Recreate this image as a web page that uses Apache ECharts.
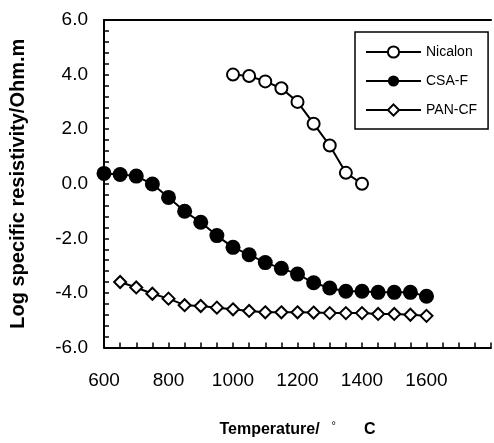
<!DOCTYPE html>
<html>
<head>
<meta charset="utf-8">
<script src="https://cdn.jsdelivr.net/npm/echarts@6/dist/echarts.min.js"></script>
<style>html,body{margin:0;padding:0;background:#fff}#c{width:494px;height:443px}</style>
</head>
<body>
<div id="c"></div>
<script>
const nicalonT = [1000,1050,1100,1150,1200,1250,1300,1350,1400];
const nicalonR = [4.0,3.95,3.75,3.5,3.0,2.2,1.4,0.4,0.0];
const csaT = [600,650,700,750,800,850,900,950,1000,1050,1100,1150,1200,1250,1300,1350,1400,1450,1500,1550,1600];
const csaR = [0.38,0.34,0.28,-0.01,-0.5,-1.01,-1.41,-1.9,-2.33,-2.6,-2.89,-3.1,-3.31,-3.63,-3.82,-3.94,-3.94,-3.98,-3.98,-3.98,-4.12];
const panT = [650,700,750,800,850,900,950,1000,1050,1100,1150,1200,1250,1300,1350,1400,1450,1500,1550,1600];
const panR = [-3.6,-3.8,-4.03,-4.21,-4.45,-4.48,-4.54,-4.6,-4.66,-4.71,-4.71,-4.71,-4.72,-4.74,-4.74,-4.74,-4.77,-4.77,-4.8,-4.84];
const xTicks = [600,800,1000,1200,1400,1600];
const yTicks = [-6,-4,-2,0,2,4,6];

const FONT = '"Liberation Sans", Arial, sans-serif';
const pair = (xs, ys) => xs.map((x, i) => [x, ys[i]]);

const chart = echarts.init(document.getElementById('c'), null, {renderer: 'canvas'});
chart.setOption({
  animation: false,
  backgroundColor: '#fff',
  textStyle: {fontFamily: FONT, color: '#000'},
  grid: {left: 97, right: 3, top: 20, bottom: 84},
  legend: {
    orient: 'vertical',
    left: 355, top: 32,
    padding: [13, 11, 12, 10],
    itemWidth: 55, itemHeight: 14, itemGap: 15,
    borderColor: '#000', borderWidth: 1.5,
    textStyle: {fontFamily: FONT, fontSize: 14, color: '#000'},
    data: ['Nicalon', 'CSA-F', 'PAN-CF']
  },
  xAxis: [{
    type: 'value', min: 600, max: 1800, interval: 200,
    axisLine: {onZero: false, lineStyle: {color: '#000', width: 2}},
    axisTick: {inside: true, length: 5, lineStyle: {color: '#000', width: 1.5}},
    minorTick: {show: true, splitNumber: 4, length: 5, lineStyle: {color: '#000', width: 1.5}},
    splitLine: {show: false},
    axisLabel: {
      margin: 24, fontSize: 19, color: '#000', fontFamily: FONT,
      formatter: v => xTicks.indexOf(v) >= 0 ? String(v) : ''
    },
    name: '{a|Temperature/}{d|°}{a|C}',
    nameLocation: 'middle', nameGap: 73,
    nameTextStyle: {
      rich: {
        a: {fontFamily: FONT, fontSize: 16, fontWeight: 'bold', color: '#000'},
        d: {fontFamily: FONT, fontSize: 11, color: '#000', padding: [0, 28, 8, 12]}
      }
    }
  }, {
    type: 'value', position: 'top', min: 600, max: 1800, interval: 200,
    axisLine: {show: true, onZero: false, lineStyle: {color: '#000', width: 2}},
    axisTick: {show: false}, axisLabel: {show: false}, splitLine: {show: false}
  }],
  yAxis: {
    type: 'value', min: -6, max: 6, interval: 2,
    axisLine: {onZero: false, lineStyle: {color: '#000', width: 2}},
    axisTick: {inside: true, length: 5, lineStyle: {color: '#000', width: 1.5}},
    minorTick: {show: true, splitNumber: 5, length: 5, lineStyle: {color: '#000', width: 1.5}},
    splitLine: {show: false},
    axisLabel: {
      margin: 16, fontSize: 19, color: '#000', fontFamily: FONT,
      padding: [8, 0, 0, 0],
      formatter: v => yTicks.indexOf(v) >= 0 ? v.toFixed(1) : ''
    },
    name: 'Log specific resistivity/Ohm.m',
    nameLocation: 'middle', nameGap: 76,
    nameTextStyle: {fontFamily: FONT, fontSize: 20, fontWeight: 'bold', color: '#000'}
  },
  series: [
    {
      name: 'Nicalon', type: 'line', data: pair(nicalonT, nicalonR),
      symbol: 'emptyCircle', symbolSize: 12,
      lineStyle: {color: '#000', width: 2},
      itemStyle: {color: '#000', borderColor: '#000', borderWidth: 2}
    },
    {
      name: 'CSA-F', type: 'line', data: pair(csaT, csaR),
      symbol: 'circle', symbolSize: 15,
      lineStyle: {color: '#000', width: 2},
      itemStyle: {color: '#000'}
    },
    {
      name: 'PAN-CF', type: 'line', data: pair(panT, panR),
      symbol: 'emptyDiamond', symbolSize: 12,
      lineStyle: {color: '#000', width: 2},
      itemStyle: {color: '#000', borderColor: '#000', borderWidth: 2}
    }
  ]
});
</script>
</body>
</html>
